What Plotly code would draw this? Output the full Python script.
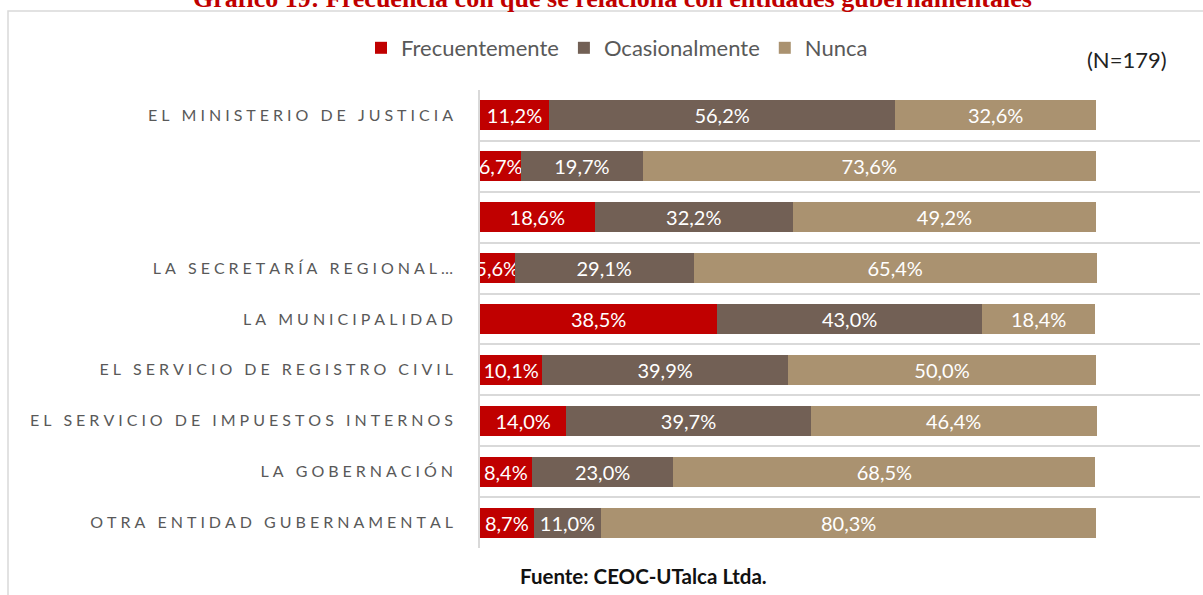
import plotly.graph_objects as go

categories = [
    "EL MINISTERIO DE JUSTICIA",
    "",
    "",
    "LA SECRETARÍA REGIONAL…",
    "LA MUNICIPALIDAD",
    "EL SERVICIO DE REGISTRO CIVIL",
    "EL SERVICIO DE IMPUESTOS INTERNOS",
    "LA GOBERNACIÓN",
    "OTRA ENTIDAD GUBERNAMENTAL",
]
frecuentemente = [11.2, 6.7, 18.6, 5.6, 38.5, 10.1, 14.0, 8.4, 8.7]
ocasionalmente = [56.2, 19.7, 32.2, 29.1, 43.0, 39.9, 39.7, 23.0, 11.0]
nunca = [32.6, 73.6, 49.2, 65.4, 18.4, 50.0, 46.4, 68.5, 80.3]
series_names = ["Frecuentemente", "Ocasionalmente", "Nunca"]
colors = ["#C00000", "#726055", "#AA9270"]

title = "Gráfico 19: Frecuencia con que se relaciona con entidades gubernamentales"
source = "Fuente: CEOC-UTalca Ltda."
n_note = "(N=179)"

W, H = 1203, 595
ML, MR, MT, MB = 480, 3, 90, 47
PW, PH = W - ML - MR, H - MT - MB


def px_x(px):
    return (px - ML) / PW


def px_y(py):
    return (H - MB - py) / PH


GAP = "\u2009\u2009"


def spaced(s):
    return GAP.join(list(s))


keys = ["c%d" % i for i in range(len(categories))]
ticktext = [spaced(c) if c else "" for c in categories]

fig = go.Figure()
for name, vals, col in zip(series_names, [frecuentemente, ocasionalmente, nunca], colors):
    fig.add_trace(go.Bar(
        name=name, y=keys, x=vals, orientation="h",
        marker=dict(color=col, line=dict(width=0)),
        texttemplate="%{x:.1f}%", textposition="inside",
        insidetextanchor="middle",
        textfont=dict(family="Lato", size=20, color="white"),
        hoverinfo="skip",
    ))

fig.update_layout(
    barmode="stack",
    bargap=0.41,
    width=W, height=H,
    margin=dict(l=ML, r=MR, t=MT, b=MB, autoexpand=False),
    paper_bgcolor="white", plot_bgcolor="white",
    separators=",.",
    uniformtext=dict(minsize=20, mode="show"),
    legend=dict(orientation="h", x=px_x(617), xanchor="center",
                y=px_y(48), yanchor="middle", traceorder="normal",
                font=dict(family="Lato", size=22, color="#595959"),
                tracegroupgap=0),
    xaxis=dict(range=[0, 100 * PW / 616], showgrid=False, zeroline=False,
               showticklabels=False, ticks=""),
    yaxis=dict(type="category", autorange="reversed",
               tickvals=keys, ticktext=ticktext,
               tickson="boundaries", ticks="",
               showgrid=True, gridcolor="#D9D9D9", gridwidth=1.5,
               showline=True, linecolor="#D9D9D9", linewidth=1.5,
               ticklabelstandoff=22,
               tickfont=dict(family="Lato", size=16, color="#595959")),
    shapes=[dict(type="rect", xref="paper", yref="paper",
                 x0=px_x(8), x1=px_x(1210), y0=px_y(11), y1=px_y(605),
                 line=dict(color="#D9D9D9", width=1.5), fillcolor="rgba(0,0,0,0)",
                 layer="below")],
    annotations=[
        dict(text="<b>" + title + "</b>", xref="paper", yref="paper",
             x=px_x(612), y=px_y(15), xanchor="center", yanchor="bottom",
             showarrow=False,
             font=dict(family="Liberation Serif", size=26, color="#C00000")),
        dict(text=n_note, xref="paper", yref="paper",
             x=px_x(1127), y=px_y(60), xanchor="center", yanchor="middle",
             showarrow=False, font=dict(family="Lato", size=22, color="#222222")),
        dict(text="<b>" + source + "</b>", xref="paper", yref="paper",
             x=px_x(643), y=px_y(576), xanchor="center", yanchor="middle",
             showarrow=False, font=dict(family="Lato", size=20.5, color="#111111")),
    ],
)

fig.write_html("out.html", config={"displayModeBar": False},
               post_script="document.body.style.margin='0';")
